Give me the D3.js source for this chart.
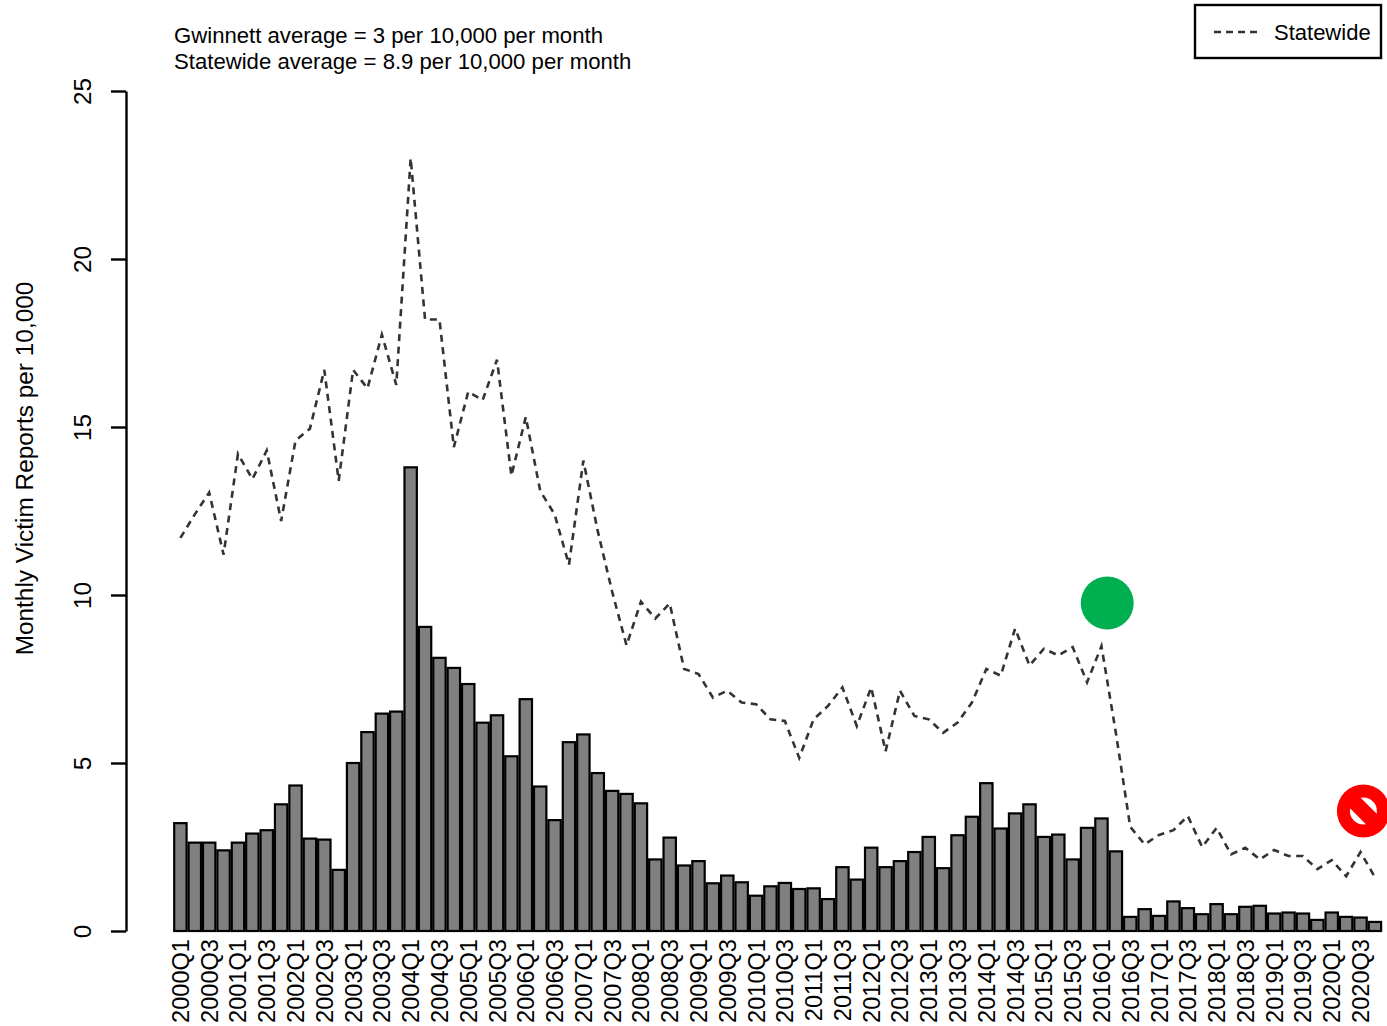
<!DOCTYPE html>
<html>
<head>
<meta charset="utf-8">
<script src="https://cdn.jsdelivr.net/npm/d3@7"></script>
<style>
	html, body { margin: 0; padding: 0; background: #fff; }
	text { font-family: "Liberation Sans", Arial, sans-serif; fill: #000; }
</style>
</head>
<body>
<div id="chart"></div>
<script>
"use strict";

// Size of SVG
const w = 1387;
const h = 1026;

// Quarters, one per bar
const quarters = [
	"2000Q1", "2000Q2", "2000Q3", "2000Q4", "2001Q1", "2001Q2", "2001Q3", "2001Q4",
	"2002Q1", "2002Q2", "2002Q3", "2002Q4", "2003Q1", "2003Q2", "2003Q3", "2003Q4",
	"2004Q1", "2004Q2", "2004Q3", "2004Q4", "2005Q1", "2005Q2", "2005Q3", "2005Q4",
	"2006Q1", "2006Q2", "2006Q3", "2006Q4", "2007Q1", "2007Q2", "2007Q3", "2007Q4",
	"2008Q1", "2008Q2", "2008Q3", "2008Q4", "2009Q1", "2009Q2", "2009Q3", "2009Q4",
	"2010Q1", "2010Q2", "2010Q3", "2010Q4", "2011Q1", "2011Q2", "2011Q3", "2011Q4",
	"2012Q1", "2012Q2", "2012Q3", "2012Q4", "2013Q1", "2013Q2", "2013Q3", "2013Q4",
	"2014Q1", "2014Q2", "2014Q3", "2014Q4", "2015Q1", "2015Q2", "2015Q3", "2015Q4",
	"2016Q1", "2016Q2", "2016Q3", "2016Q4", "2017Q1", "2017Q2", "2017Q3", "2017Q4",
	"2018Q1", "2018Q2", "2018Q3", "2018Q4", "2019Q1", "2019Q2", "2019Q3", "2019Q4",
	"2020Q1", "2020Q2", "2020Q3", "2020Q4"
];

// Gwinnett bars
const gwinnett = [
	3.21, 2.63, 2.63, 2.4, 2.63, 2.9, 3.0, 3.77,
	4.33, 2.75, 2.72, 1.82, 5.0, 5.92, 6.47, 6.53,
	13.8, 9.05, 8.13, 7.83, 7.35, 6.2, 6.42, 5.2,
	6.9, 4.3, 3.3, 5.62, 5.85, 4.7, 4.17, 4.08,
	3.8, 2.13, 2.78, 1.95, 2.08, 1.42, 1.65, 1.45,
	1.05, 1.33, 1.43, 1.25, 1.27, 0.95, 1.9, 1.53,
	2.48, 1.9, 2.08, 2.35, 2.8, 1.87, 2.85, 3.4,
	4.4, 3.05, 3.5, 3.77, 2.8, 2.87, 2.13, 3.07,
	3.35, 2.37, 0.42, 0.65, 0.45, 0.88, 0.68, 0.5,
	0.8, 0.5, 0.72, 0.75, 0.52, 0.55, 0.52, 0.33,
	0.55, 0.42, 0.4, 0.27
];

// Statewide dashed line
const statewide = [
	11.7, 12.4, 13.05, 11.2, 14.2, 13.45, 14.3, 12.2,
	14.6, 14.95, 16.7, 13.4, 16.7, 16.15, 17.75, 16.25,
	23, 18.2, 18.2, 14.4, 16.05, 15.8, 17, 13.55,
	15.3, 13.1, 12.4, 10.9, 14, 11.9, 10.1, 8.5,
	9.8, 9.3, 9.75, 7.8, 7.65, 6.95, 7.15, 6.8,
	6.75, 6.3, 6.25, 5.15, 6.3, 6.7, 7.25, 6.1,
	7.25, 5.35, 7.15, 6.4, 6.3, 5.9, 6.2, 6.8,
	7.8, 7.6, 9.0, 7.9, 8.4, 8.2, 8.45, 7.4,
	8.48, 5.9, 3.1, 2.58, 2.86, 3.0, 3.42, 2.5,
	3.07, 2.28, 2.48, 2.13, 2.41, 2.23, 2.23, 1.84,
	2.11, 1.63, 2.35, 1.6
];

const yTicks = [0, 5, 10, 15, 20, 25];
const noteLines = [
	"Gwinnett average = 3 per 10,000 per month",
	"Statewide average = 8.9 per 10,000 per month"
];

// Status markers, position in quarter index and rate
const greenMarker = { at: 64.4, rate: 9.76 };
const redMarker = { at: 82.2, rate: 3.57 };

const svg = d3.select("#chart")
	.append("svg")
	.attr("width", w)
	.attr("height", h)
	.style("display", "block");

// Scales
const x = d3.scaleBand()
	.domain(quarters)
	.range([173.2, 1382.1])
	.paddingInner(0.14)
	.paddingOuter(0.07);
const xIndex = d3.scaleLinear()
	.domain([0, quarters.length - 1])
	.range([x(quarters[0]) + x.bandwidth() / 2, x(quarters[83]) + x.bandwidth() / 2]);
const y = d3.scaleLinear()
	.domain([0, 25])
	.range([931, 91]);

// Bars
svg.append("g")
	.selectAll("rect")
	.data(gwinnett)
	.enter()
	.append("rect")
	.attr("x", (d, i) => x(quarters[i]))
	.attr("y", d => y(d))
	.attr("width", x.bandwidth())
	.attr("height", d => y(0) - y(d))
	.attr("fill", "#808080")
	.attr("stroke", "#000")
	.attr("stroke-width", 2.2);

// Statewide line
const line = d3.line()
	.x((d, i) => xIndex(i))
	.y(d => y(d));
svg.append("path")
	.attr("d", line(statewide))
	.attr("fill", "none")
	.attr("stroke", "#333")
	.attr("stroke-width", 2.6)
	.attr("stroke-dasharray", "7,5.5");

// Y axis
const yAxis = svg.append("g")
	.attr("transform", "translate(126,0)")
	.call(d3.axisLeft(y).tickValues(yTicks).tickSize(15).tickSizeOuter(0));
yAxis.selectAll("path, line")
	.attr("stroke", "#000")
	.attr("stroke-width", 2.4);
yAxis.selectAll("text")
	.attr("x", null)
	.attr("y", null)
	.attr("dy", null)
	.attr("transform", "translate(-35,0) rotate(-90)")
	.attr("text-anchor", "middle")
	.style("font-size", "24.4px");

// X axis, every second quarter is labelled
const xAxis = svg.append("g")
	.attr("transform", "translate(0,931)")
	.call(d3.axisBottom(x).tickValues(quarters.filter((d, i) => i % 2 === 0)).tickSize(0));
xAxis.select(".domain").remove();
xAxis.selectAll("text")
	.attr("x", null)
	.attr("y", null)
	.attr("dy", null)
	.attr("transform", "translate(8.5,8) rotate(-90)")
	.attr("text-anchor", "end")
	.style("font-size", "23.6px");

// Y axis title
svg.append("text")
	.attr("transform", "translate(33,468.5) rotate(-90)")
	.attr("text-anchor", "middle")
	.style("font-size", "24.4px")
	.text("Monthly Victim Reports per 10,000");

// Averages
svg.selectAll(".note")
	.data(noteLines)
	.enter()
	.append("text")
	.attr("class", "note")
	.attr("x", 174)
	.attr("y", (d, i) => 43 + i * 26)
	.style("font-size", "22.15px")
	.text(d => d);

// Legend
svg.append("rect")
	.attr("x", 1195)
	.attr("y", 5)
	.attr("width", 186)
	.attr("height", 53)
	.attr("fill", "#fff")
	.attr("stroke", "#000")
	.attr("stroke-width", 2.4);
svg.append("line")
	.attr("x1", 1214)
	.attr("x2", 1257)
	.attr("y1", 32)
	.attr("y2", 32)
	.attr("stroke", "#333")
	.attr("stroke-width", 2.6)
	.attr("stroke-dasharray", "7,5");
svg.append("text")
	.attr("x", 1274)
	.attr("y", 40)
	.style("font-size", "22px")
	.text("Statewide");

// Green marker
svg.append("circle")
	.attr("cx", xIndex(greenMarker.at))
	.attr("cy", y(greenMarker.rate))
	.attr("r", 26.5)
	.attr("fill", "#00b050");

// Red marker, white disc with a red band across it
const red = svg.append("g")
	.attr("transform", `translate(${xIndex(redMarker.at)},${y(redMarker.rate)})`);
red.append("circle")
	.attr("r", 26.5)
	.attr("fill", "#ff0000");
red.append("circle")
	.attr("r", 13.5)
	.attr("fill", "#fff");
red.append("rect")
	.attr("x", -16)
	.attr("y", -7.5)
	.attr("width", 32)
	.attr("height", 15)
	.attr("transform", "rotate(45)")
	.attr("fill", "#ff0000");
</script>
</body>
</html>
